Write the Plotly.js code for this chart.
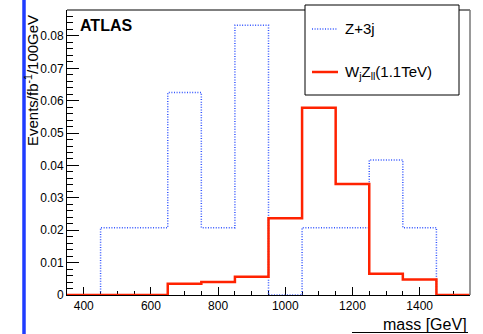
<!DOCTYPE html>
<html>
<head>
<meta charset="utf-8">
<script src="https://cdn.plot.ly/plotly-3.0.1.min.js"></script>
<style>html,body{margin:0;padding:0;background:#fff;}#chart{width:483px;height:334px;}</style>
</head>
<body>
<div id="chart"></div>
<script>
// Bin edges (GeV) of the histograms
const binEdges = [350, 450, 550, 650, 750, 850, 950, 1050, 1150, 1250, 1350, 1450, 1550];
// Z+3j background, Events/fb^-1/100GeV per bin
const z3jValues = [0, 0.0208, 0.0208, 0.0625, 0.0208, 0.0833, 0, 0.0208, 0.0208, 0.0417, 0.0208, 0];
// WjZll signal (1.1 TeV) per bin
const wzValues = [0, 0, 0, 0.0035, 0.0040, 0.0056, 0.0237, 0.0578, 0.0343, 0.0066, 0.0048, 0];
const xTickVals = [400, 600, 800, 1000, 1200, 1400];
const seriesNames = ["Z+3j", "W<sub>j</sub>Z<sub>ll</sub>(1.1TeV)"];

function stepPoints(edges, vals) {
  const x = edges.slice();
  const y = vals.concat([vals[vals.length - 1]]);
  return {x, y};
}

const zs = stepPoints(binEdges, z3jValues);
const ws = stepPoints(binEdges, wzValues);

const FONT = "Liberation Sans, Arial, Helvetica, sans-serif";
const BLUE = "#3355ff", RED = "#ff2200";
const DOTS = "1px,1.6px";

const traces = [
  {x: zs.x, y: zs.y, type: "scatter", mode: "lines", line: {shape: "hv", color: BLUE, width: 1.5, dash: DOTS}, cliponaxis: false, showlegend: false, hoverinfo: "skip"},
  {x: ws.x, y: ws.y, type: "scatter", mode: "lines", line: {shape: "hv", color: RED, width: 2.5}, cliponaxis: false, showlegend: false, hoverinfo: "skip"}
];

// pixel helpers for paper coordinates (plot area: x 67..470, y 10..295)
const px = v => (v - 67) / 403;
const py = v => (295 - v) / 285;

const layout = {
  width: 483, height: 334,
  margin: {l: 67, r: 13, t: 10, b: 39, pad: 0},
  paper_bgcolor: "#fff", plot_bgcolor: "#fff",
  font: {family: FONT, size: 12, color: "#000"},
  showlegend: false,
  xaxis: {
    range: [350, 1550], tickvals: xTickVals, ticks: "inside", ticklen: 8, tickcolor: "#000", tickwidth: 1,
    showline: true, linecolor: "#000", linewidth: 1, showgrid: false, zeroline: false, layer: "below traces",
    tickfont: {family: FONT, size: 12, color: "#000"},
    minor: {dtick: 50, tick0: 0, ticks: "inside", ticklen: 4, tickcolor: "#000", tickwidth: 1, showgrid: false}
  },
  yaxis: {
    range: [0, 0.088], dtick: 0.01, tick0: 0, ticks: "inside", ticklen: 12, tickcolor: "#000", tickwidth: 1,
    showline: true, linecolor: "#000", linewidth: 1, showgrid: false, zeroline: false, layer: "below traces",
    tickfont: {family: FONT, size: 12, color: "#000"},
    minor: {dtick: 0.002, ticks: "inside", ticklen: 6, tickcolor: "#000", tickwidth: 1, showgrid: false}
  },
  shapes: [
    {type: "line", xref: "paper", yref: "paper", x0: 0, x1: 1, y0: 1, y1: 1, line: {color: "#000", width: 1}},
    {type: "line", xref: "paper", yref: "paper", x0: 1, x1: 1, y0: 0, y1: 1, line: {color: "#777", width: 1.5}},
    {type: "rect", xref: "paper", yref: "paper", x0: px(305), x1: px(459), y0: py(95), y1: py(5), fillcolor: "#fff", line: {color: "#000", width: 1}},
    {type: "line", xref: "paper", yref: "paper", x0: px(312), x1: px(338), y0: py(29), y1: py(29), line: {color: BLUE, width: 1.5, dash: DOTS}},
    {type: "line", xref: "paper", yref: "paper", x0: px(312), x1: px(338), y0: py(72), y1: py(72), line: {color: RED, width: 2.5}},
    {type: "line", xref: "paper", yref: "paper", x0: px(24), x1: px(24), y0: py(340), y1: py(-6), line: {color: "#1f3cff", width: 3.5}},
    {type: "line", xref: "paper", yref: "paper", x0: px(352), x1: px(468), y0: py(332.5), y1: py(332.5), line: {color: "#000", width: 1}}
  ],
  annotations: [
    {xref: "paper", yref: "paper", x: px(78), y: py(25), xanchor: "left", yanchor: "middle", showarrow: false, text: "<b>ATLAS</b>", font: {family: FONT, size: 16, color: "#000"}},
    {xref: "paper", yref: "paper", x: px(343), y: py(29), xanchor: "left", yanchor: "middle", showarrow: false, text: seriesNames[0], font: {family: FONT, size: 15, color: "#000"}},
    {xref: "paper", yref: "paper", x: px(343), y: py(72), xanchor: "left", yanchor: "middle", showarrow: false, text: seriesNames[1], font: {family: FONT, size: 15, color: "#000"}},
    {xref: "paper", yref: "paper", x: px(469), y: py(325), xanchor: "right", yanchor: "middle", showarrow: false, text: "mass [GeV]", font: {family: FONT, size: 16, color: "#000"}},
    {xref: "paper", yref: "paper", x: px(31), y: py(81), xanchor: "center", yanchor: "middle", textangle: -90, showarrow: false, text: "Events/fb<sup>-1</sup>/100GeV", font: {family: FONT, size: 15, color: "#000"}}
  ]
};

Plotly.newPlot("chart", traces, layout, {staticPlot: true, displayModeBar: false});
</script>
</body>
</html>
